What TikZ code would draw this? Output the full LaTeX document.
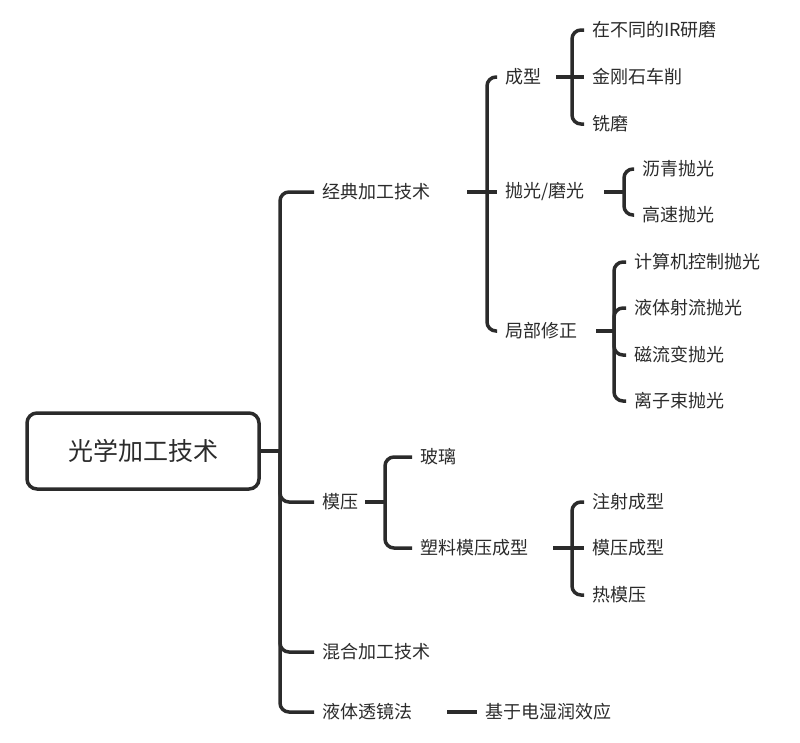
\documentclass[tikz,border=0pt]{standalone}
\usepackage{fontspec}
\setmainfont{Noto Sans CJK SC}
\definecolor{ink}{HTML}{2B2B2B}
\tikzset{
  topic/.style={anchor=west, inner xsep=8pt, inner ysep=2pt, outer sep=0pt, font=\fontsize{18}{21}\selectfont, text=ink},
  conn/.style={draw=ink, line width=3.5pt, rounded corners=9pt},
}
\begin{document}
\begin{tikzpicture}[x=1pt,y=-1pt]
\useasboundingbox (0,0) rectangle (800,742);

\node[draw=ink, line width=3.5pt, rounded corners=10pt, minimum width=232pt, minimum height=76pt, font=\fontsize{25}{29}\selectfont, text=ink] (root) at (143,451) {光学加工技术};

\node[topic] (a) at (314,192) {经典加工技术};
\node[topic] (b) at (314,502) {模压};
\node[topic] (c) at (314,652) {混合加工技术};
\node[topic] (d) at (314,712) {液体透镜法};

\node[topic] (a1) at (497,77) {成型};
\node[topic] (a2) at (497,192) {抛光/磨光};
\node[topic] (a3) at (497,331) {局部修正};

\node[topic] (a11) at (584,30) {在不同的IR研磨};
\node[topic] (a12) at (584,77) {金刚石车削};
\node[topic] (a13) at (584,124) {铣磨};

\node[topic] (a21) at (634,169) {沥青抛光};
\node[topic] (a22) at (634,215) {高速抛光};

\node[topic] (a31) at (626,262) {计算机控制抛光};
\node[topic] (a32) at (626,308) {液体射流抛光};
\node[topic] (a33) at (626,355) {磁流变抛光};
\node[topic] (a34) at (626,401) {离子束抛光};

\node[topic] (b1) at (412,457) {玻璃};
\node[topic] (b2) at (412,548) {塑料模压成型};

\node[topic] (b21) at (584,502) {注射成型};
\node[topic] (b22) at (584,548) {模压成型};
\node[topic] (b23) at (584,595) {热模压};

\node[topic] (d1) at (477,712) {基于电湿润效应};

% root
\coordinate (j0) at (280,451);
\draw[conn] (root.east) -- (j0);
\foreach \n in {a,b,c,d} \draw[conn] (j0) |- (\n.west);

% 经典加工技术
\coordinate (j1) at (487,192);
\draw[conn] (467,192) -- (a2.west);
\foreach \n in {a1,a3} \draw[conn] (j1) |- (\n.west);

\coordinate (j11) at (572,77);
\draw[conn] (556,77) -- (a12.west);
\foreach \n in {a11,a13} \draw[conn] (j11) |- (\n.west);

\coordinate (j12) at (624,192);
\draw[conn] (604,192) -- (j12);
\foreach \n in {a21,a22} \draw[conn] (j12) |- (\n.west);

\coordinate (j13) at (614,331);
\draw[conn] (596,331) -- (j13);
\foreach \n in {a31,a32,a33,a34} \draw[conn] (j13) |- (\n.west);

% 模压
\coordinate (j2) at (385,502);
\draw[conn] (365,502) -- (j2);
\foreach \n in {b1,b2} \draw[conn] (j2) |- (\n.west);

\coordinate (j22) at (572,548);
\draw[conn] (553,548) -- (b22.west);
\foreach \n in {b21,b23} \draw[conn] (j22) |- (\n.west);

% 液体透镜法
\draw[conn] (447,712) -- (d1.west);
\end{tikzpicture}
\end{document}
